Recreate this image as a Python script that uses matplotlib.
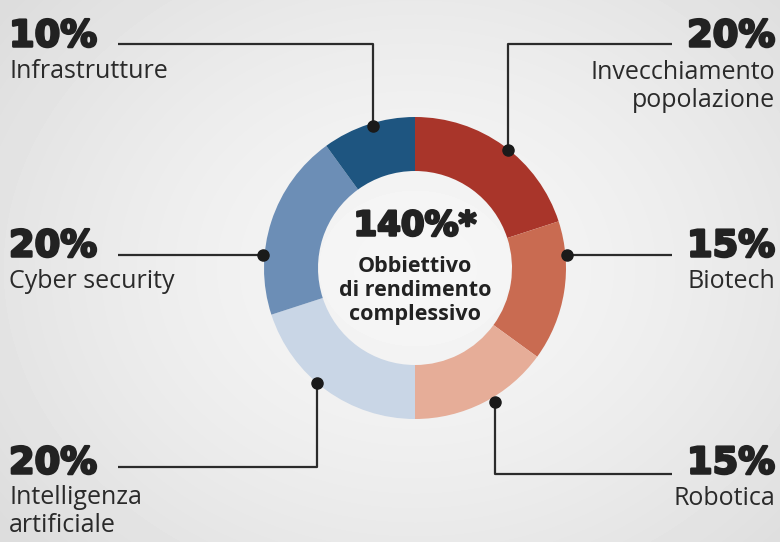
import matplotlib.pyplot as plt
import matplotlib.patheffects as pe
import numpy as np

labels = ['Invecchiamento\npopolazione', 'Biotech', 'Robotica',
          'Intelligenza\nartificiale', 'Cyber security', 'Infrastrutture']
values = [20, 15, 15, 20, 20, 10]
colors = ['#a9352a', '#c96b51', '#e6ad98', '#c9d6e6', '#6c8eb6', '#1e5580']
total_text = '140%*'
center_lines = 'Obbiettivo\ndi rendimento\ncomplessivo'

W, H = 780, 542
fig = plt.figure(figsize=(W / 100, H / 100), dpi=100)
ax = fig.add_axes([0, 0, 1, 1])

# soft background: light centre fading to grey at the edges
yy, xx = np.mgrid[0:H, 0:W]
d = np.sqrt(((xx - 415) / 520.0) ** 2 + ((yy - 268) / 420.0) ** 2)
bg = 0.965 - 0.10 * np.clip(d, 0, 1) ** 1.5
ax.imshow(bg, cmap='gray', vmin=0, vmax=1, extent=[0, W, H, 0], zorder=0)

cx, cy, R = 415, 268, 151
# y axis is inverted, so counterclock in data = clockwise on screen
ax.pie(values, colors=colors, startangle=-90, counterclock=True,
       center=(cx, cy), radius=R, frame=True,
       wedgeprops=dict(width=R - 97, linewidth=0))
ax.set_xlim(0, W)
ax.set_ylim(H, 0)
ax.set_aspect('equal')
ax.axis('off')

lc = '#2b2b2b'
# connector paths: (dot, elbow, end)
paths = [
    [(508, 150), (508, 44), (672, 44)],
    [(567, 255), (672, 255)],
    [(495, 402), (495, 474), (672, 474)],
    [(317, 383), (317, 467), (118, 467)],
    [(263, 255), (118, 255)],
    [(373, 126), (373, 44), (118, 44)],
]
for p in paths:
    xs, ys = zip(*p)
    ax.plot(xs, ys, color=lc, lw=1.6, zorder=3, solid_capstyle='butt')
    ax.plot(xs[0], ys[0], 'o', color='#1a1a1a', ms=8, zorder=4)

heavy = [pe.withStroke(linewidth=1.8, foreground='#222222')]

# label positions: (x, y of pct, y of name, ha)
pos = [(775, 36, 60, 'right'), (775, 246, 269, 'right'), (775, 463, 486, 'right'),
       (9, 463, 485, 'left'), (9, 246, 269, 'left'), (9, 36, 59, 'left')]
pct_font = dict(family='DejaVu Sans', weight='bold', size=26.5, color='#222222')
name_font = dict(family='Open Sans', size=18, color='#2a2a2a', linespacing=1.15)
for (x, yp, yn, ha), v, lab in zip(pos, values, labels):
    ax.text(x, yp, f'{v}%', ha=ha, va='center', zorder=5, path_effects=heavy, **pct_font)
    ax.text(x, yn, lab, ha=ha, va='top', multialignment=ha, zorder=5, **name_font)

ax.text(cx, 226, total_text, ha='center', va='center', zorder=5, path_effects=heavy,
        family='DejaVu Sans', weight='bold', size=24.5, color='#222222')
ax.text(cx, 256, center_lines, ha='center', va='top', zorder=5,
        family='Open Sans', weight='bold', size=15.5, color='#222222',
        linespacing=1.2)

fig.savefig('out.png', dpi=100)
